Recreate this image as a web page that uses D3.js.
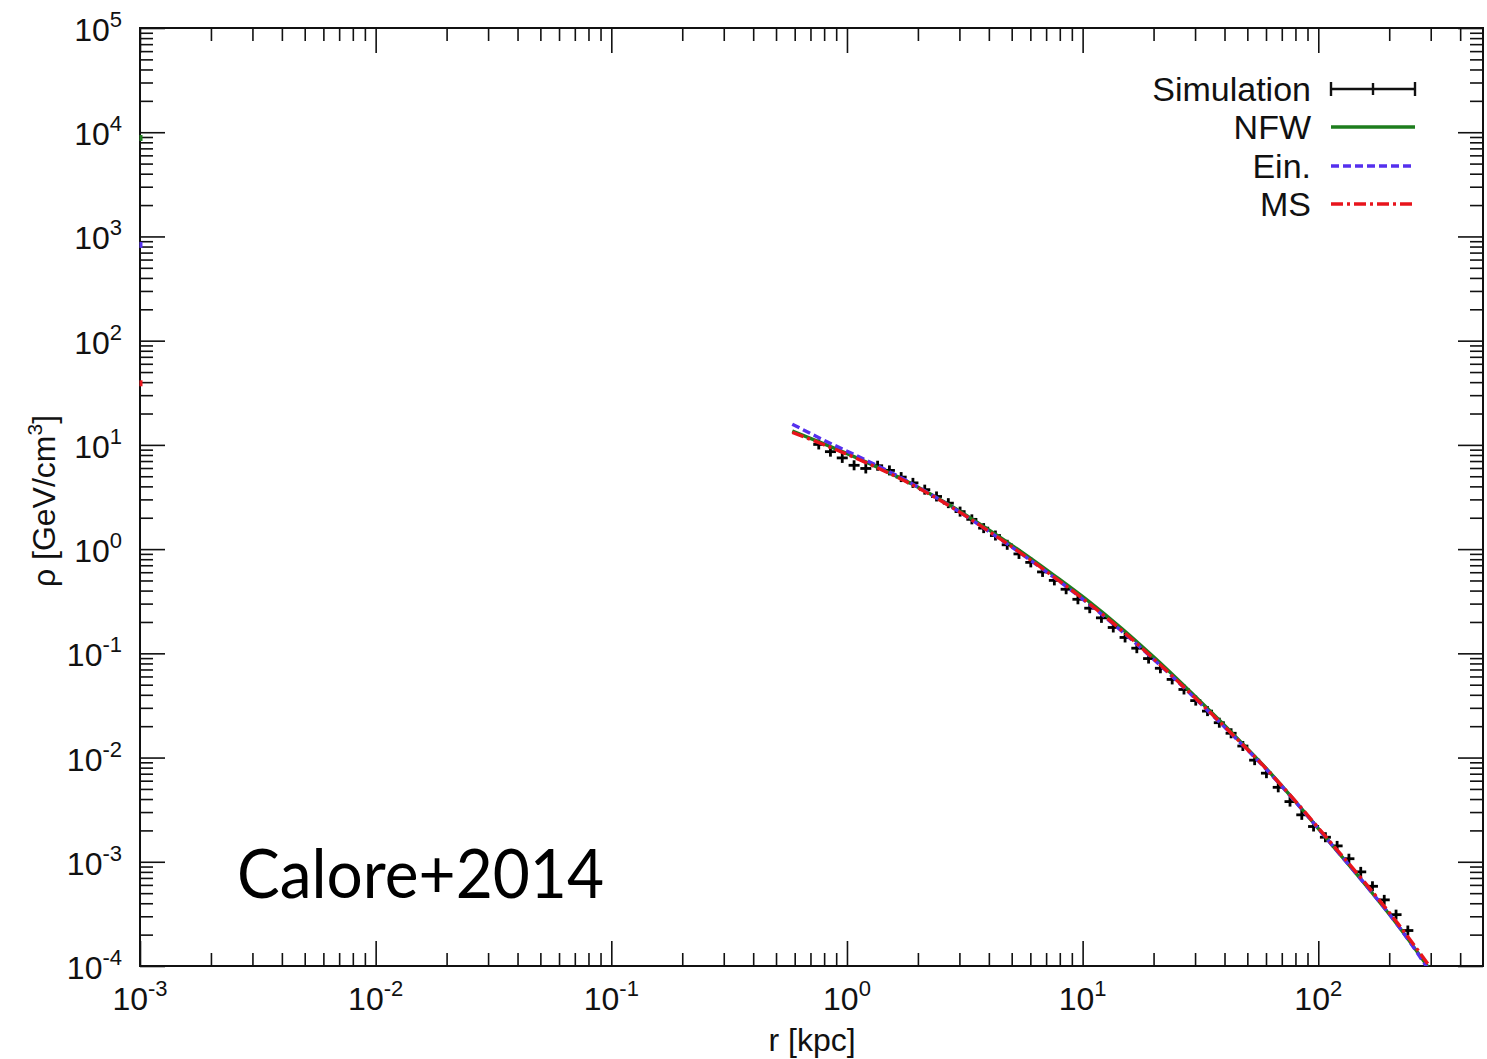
<!DOCTYPE html>
<html>
<head>
<meta charset="utf-8">
<script src="https://cdn.jsdelivr.net/npm/d3@7"></script>
<style>
  body { margin: 0; background: #fff; }
  svg { display: block; }
</style>
</head>
<body>
<div id="chart"></div>
<script>
///////// DATA /////////
// simulation points, r in kpc, rho in GeV/cm^3
var simR = [0.759, 0.851, 0.955, 1.072, 1.202, 1.349, 1.514, 1.698, 1.905, 2.138,
            2.399, 2.692, 3.020, 3.388, 3.802, 4.266, 4.786, 5.370, 6.026, 6.761,
            7.586, 8.511, 9.550, 10.72, 12.02, 13.49, 15.14, 16.98, 19.05, 21.38,
            23.99, 26.92, 30.20, 33.88, 38.02, 42.66, 47.86, 53.70, 60.26, 67.61,
            75.86, 85.11, 95.50, 107.2, 120.2, 134.9, 151.4, 169.8, 190.5, 213.8,
            239.9];
var simRho = [10.1, 8.61, 7.50, 6.37, 5.94, 6.31, 5.69, 4.91, 4.32, 3.72,
              3.20, 2.76, 2.29, 1.93, 1.59, 1.35, 1.10, 0.899, 0.746, 0.604,
              0.501, 0.412, 0.330, 0.271, 0.219, 0.177, 0.142, 0.112, 0.0891, 0.0719,
              0.0562, 0.0450, 0.0352, 0.0279, 0.0216, 0.0171, 0.0129, 0.00944, 0.00708, 0.00518,
              0.00378, 0.00282, 0.00218, 0.00172, 0.00142, 0.00107, 8.0e-4, 5.82e-4, 4.31e-4, 3.11e-4,
              2.19e-4];

// fitted profiles, sampled at the same radii
var modelR = [0.586, 0.785, 1.242, 1.888, 2.793, 4.325, 5.521, 7.691, 10.62, 14.66,
              20.42, 31.05, 42.85, 59.70, 82.22, 113.5, 157.8, 217.8, 300];
var nfwRho = [13.6, 10.4, 6.65, 4.22, 2.56, 1.36, 0.935, 0.545, 0.315, 0.173,
              0.0885, 0.0358, 0.0174, 0.0080, 0.00352, 0.00148, 6.1e-4, 2.45e-4, 9.0e-5];
var einRho = [15.8, 11.3, 6.9, 4.25, 2.52, 1.31, 0.895, 0.52, 0.298, 0.163,
              0.0840, 0.0343, 0.0168, 0.00785, 0.00350, 0.00148, 6.1e-4, 2.45e-4, 8.6e-5];
var msRho = [13.2, 10.2, 6.55, 4.15, 2.51, 1.318, 0.902, 0.525, 0.302, 0.166,
             0.0851, 0.0347, 0.0170, 0.00794, 0.00355, 0.00151, 6.3e-4, 2.55e-4, 9.6e-5];

// little stubs of each profile showing at r = 1e-3 on the left frame
var edgeRho = [8800, 830, 39];

var seriesNames = ['NFW', 'Ein.', 'MS'];
var xTickExp = [-3, -2, -1, 0, 1, 2];
var yTickExp = [-4, -3, -2, -1, 0, 1, 2, 3, 4, 5];
////////////////////////////////////////////

var W = 1487, H = 1059;
// note: "top" is taken by window.top, so use prefixed names
var plotL = 140, plotR = 1483, plotT = 28, plotB = 966;

var x = d3.scaleLog().domain([1e-3, 500]).range([plotL, plotR]),
    y = d3.scaleLog().domain([1e-4, 1e5]).range([plotB, plotT]);

var colors = {'NFW': '#1d7d1d', 'Ein.': '#5530ee', 'MS': '#e8141c'},
    dashes = {'NFW': null, 'Ein.': '8,4', 'MS': '12,4,3,4'};

var svg = d3.select('#chart').append('svg')
    .attr('width', W)
    .attr('height', H)
    .style('font-family', 'Liberation Sans, Arial, sans-serif');

svg.append('rect').attr('width', W).attr('height', H).attr('fill', '#fff');

// tick values: majors at each decade, minors 2..9
function minorTicks(scale) {
  var d = scale.domain(), out = [];
  for (var e = Math.floor(Math.log10(d[0])); e <= Math.ceil(Math.log10(d[1])); e++) {
    for (var k = 2; k <= 9; k++) {
      var v = k * Math.pow(10, e);
      if (v > d[0] && v < d[1]) out.push(v);
    }
  }
  return out;
}
var xMajor = xTickExp.map(function(e) { return Math.pow(10, e); }),
    yMajor = yTickExp.map(function(e) { return Math.pow(10, e); }),
    xMinor = minorTicks(x),
    yMinor = minorTicks(y);

function drawAxis(axisFn, scale, pos, isX) {
  var g = svg.append('g').attr('transform', isX ? 'translate(0,' + pos + ')' : 'translate(' + pos + ',0)');
  g.call(axisFn(scale).tickValues(isX ? xMajor : yMajor).tickSizeInner(-25).tickSizeOuter(0).tickFormat(''));
  g.append('g').call(axisFn(scale).tickValues(isX ? xMinor : yMinor).tickSizeInner(-13).tickSizeOuter(0).tickFormat(''));
  g.selectAll('.domain').remove();
  g.selectAll('line').attr('stroke', '#111').attr('stroke-width', 1.6);
}
drawAxis(d3.axisBottom, x, plotB, true);
drawAxis(d3.axisTop, x, plotT, true);
drawAxis(d3.axisLeft, y, plotL, false);
drawAxis(d3.axisRight, y, plotR, false);

svg.append('rect')
  .attr('x', plotL).attr('y', plotT)
  .attr('width', plotR - plotL).attr('height', plotB - plotT)
  .attr('fill', 'none').attr('stroke', '#111').attr('stroke-width', 2);

// tick labels with superscript exponents
var xl = svg.append('g').selectAll('text')
    .data(xTickExp).enter()
    .append('text')
      .attr('x', function(d) { return x(Math.pow(10, d)); })
      .attr('y', 1010)
      .attr('text-anchor', 'middle')
      .attr('font-size', 32)
      .attr('fill', '#111');
xl.append('tspan').text('10');
xl.append('tspan').attr('font-size', 22).attr('dy', -14).text(function(d) { return d; });

var yl = svg.append('g').selectAll('text')
    .data(yTickExp).enter()
    .append('text')
      .attr('x', 122)
      .attr('y', function(d) { return y(Math.pow(10, d)) + 13; })
      .attr('text-anchor', 'end')
      .attr('font-size', 32)
      .attr('fill', '#111');
yl.append('tspan').text('10');
yl.append('tspan').attr('font-size', 22).attr('dy', -14).text(function(d) { return d; });

// axis titles
svg.append('text')
  .attr('x', 812).attr('y', 1051)
  .attr('text-anchor', 'middle')
  .attr('font-size', 32)
  .attr('fill', '#111')
  .text('r [kpc]');

var yt = svg.append('text')
  .attr('transform', 'translate(55,501) rotate(-90)')
  .attr('text-anchor', 'middle')
  .attr('font-size', 32)
  .attr('fill', '#111');
yt.append('tspan').text('\u03C1 [GeV/cm');
yt.append('tspan').attr('font-size', 21).attr('dy', -13).text('3');
yt.append('tspan').attr('dy', 13).text(']');

// plot contents, clipped to the frame
svg.append('clipPath').attr('id', 'plotClip')
  .append('rect')
    .attr('x', plotL).attr('y', plotT)
    .attr('width', plotR - plotL).attr('height', plotB - plotT);
var plot = svg.append('g').attr('clip-path', 'url(#plotClip)');

// simulation points: short horizontal bar + vertical tick
var simData = simR.map(function(r, i) { return [r, simRho[i]]; });
var pts = plot.append('g').selectAll('g')
    .data(simData).enter()
    .append('g')
      .attr('transform', function(d) { return 'translate(' + x(d[0]) + ',' + y(d[1]) + ')'; })
      .attr('stroke', '#000')
      .attr('stroke-width', 2.8);
pts.append('line').attr('x1', -5.5).attr('x2', 5.5).attr('y1', 0).attr('y2', 0);
pts.append('line').attr('x1', 0).attr('x2', 0).attr('y1', -5).attr('y2', 5);

var line = d3.line()
    .x(function(d) { return x(d[0]); })
    .y(function(d) { return y(d[1]); })
    .curve(d3.curveMonotoneX);

var modelRho = {'NFW': nfwRho, 'Ein.': einRho, 'MS': msRho};
seriesNames.forEach(function(name) {
  var data = modelR.map(function(r, i) { return [r, modelRho[name][i]]; });
  plot.append('path')
    .datum(data)
    .attr('d', line)
    .attr('fill', 'none')
    .attr('stroke', colors[name])
    .attr('stroke-width', 3.4)
    .attr('stroke-dasharray', dashes[name]);
});

// small stubs on the left frame
svg.append('g').selectAll('line')
  .data(edgeRho).enter()
  .append('line')
    .attr('x1', x(1e-3) + 1).attr('x2', x(1e-3) + 1)
    .attr('y1', function(d) { return y(d) - 3; })
    .attr('y2', function(d) { return y(d) + 3; })
    .attr('stroke', function(d, i) { return colors[seriesNames[i]]; })
    .attr('stroke-width', 3);

// legend
var legendNames = ['Simulation'].concat(seriesNames),
    legendY = [89, 127, 166, 204];
var lg = svg.append('g');
lg.selectAll('text')
  .data(legendNames).enter()
  .append('text')
    .attr('x', 1311)
    .attr('y', function(d, i) { return legendY[i] + 12; })
    .attr('text-anchor', 'end')
    .attr('font-size', 34)
    .attr('fill', '#111')
    .text(function(d) { return d; });

var sim = lg.append('g').attr('stroke', '#111').attr('stroke-width', 2.4);
sim.append('line').attr('x1', 1331).attr('x2', 1415).attr('y1', legendY[0]).attr('y2', legendY[0]);
sim.append('line').attr('x1', 1331).attr('x2', 1331).attr('y1', legendY[0] - 7).attr('y2', legendY[0] + 7);
sim.append('line').attr('x1', 1415).attr('x2', 1415).attr('y1', legendY[0] - 7).attr('y2', legendY[0] + 7);
sim.append('line').attr('x1', 1373).attr('x2', 1373).attr('y1', legendY[0] - 6).attr('y2', legendY[0] + 6);

seriesNames.forEach(function(name, i) {
  lg.append('line')
    .attr('x1', 1331).attr('x2', 1415)
    .attr('y1', legendY[i + 1]).attr('y2', legendY[i + 1])
    .attr('stroke', colors[name])
    .attr('stroke-width', 3.4)
    .attr('stroke-dasharray', dashes[name]);
});

// citation tag
svg.append('text')
  .attr('x', 237).attr('y', 898)
  .attr('font-family', 'Lato, sans-serif')
  .attr('font-size', 68)
  .attr('textLength', 367)
  .attr('lengthAdjust', 'spacingAndGlyphs')
  .attr('fill', '#000')
  .text('Calore+2014');
</script>
</body>
</html>
